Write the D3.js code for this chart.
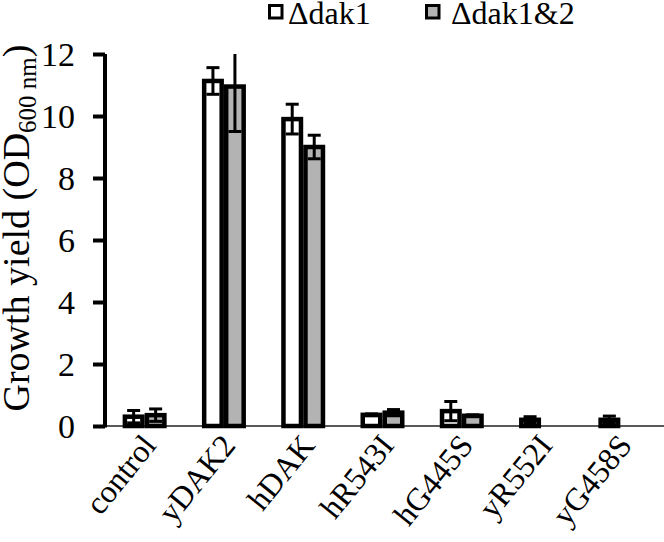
<!DOCTYPE html>
<html><head><meta charset="utf-8">
<script src="https://cdn.jsdelivr.net/npm/d3@7"></script>
<style>body{margin:0;background:#fff}svg{display:block}text{font-family:"Liberation Serif","Times New Roman",serif;fill:#000}</style>
</head><body><svg id="c" width="664" height="542"></svg>
<script>
const categories = ["control","yDAK2","hDAK","hR543I","hG445S","yR552I","yG458S"];
const seriesNames = ["\u0394dak1","\u0394dak1&2"];
const dak1Values = [0.3, 11.13, 9.9, 0.36, 0.48, 0.2, 0.2];
const dak1Errors = [0.2, 0.43, 0.48, 0.03, 0.31, 0.1, 0.12];
const dak12Values = [0.35, 10.95, 9.0, 0.43, 0.33, null, null];
const dak12Errors = [0.2, 1.45, 0.38, 0.1, 0.03, null, null];
const yTicks = [0,2,4,6,8,10,12];

const svg = d3.select("#c");
const yMax = 12;
const y = d3.scaleLinear().domain([0, yMax]).range([426, 54]);
const x0 = d3.scaleBand().domain(categories).range([105, 660]).padding(0);
const x1 = d3.scaleBand().domain([0,1]).range([-22, 22]);
const fills = ["#ffffff", "#b3b3b3"];
const vals = [dak1Values, dak12Values];
const errs = [dak1Errors, dak12Errors];
const sw = 4.5;

// x axis line
svg.append("line").attr("x1",105).attr("x2",664).attr("y1",y(0)).attr("y2",y(0))
  .attr("stroke","#222").attr("stroke-width",1.5);

// bars
const data = [];
categories.forEach((c,i)=>{ [0,1].forEach(k=>{ if(vals[k][i]!=null) data.push({c,k,v:vals[k][i],e:errs[k][i]}); }); });
const cx = d => x0(d.c) + x0.bandwidth()/2 + x1(d.k);
svg.append("g").selectAll("rect").data(data).join("rect")
  .attr("x", d => cx(d) + sw/2)
  .attr("width", x1.bandwidth() - sw)
  .attr("y", d => y(d.v))
  .attr("height", d => y(0) - y(d.v))
  .attr("fill", d => fills[d.k]).attr("stroke","#000").attr("stroke-width",sw);

// error bars
const eg = svg.append("g").attr("stroke","#000").attr("stroke-width",3);
data.forEach(d=>{
  const mx = cx(d) + x1.bandwidth()/2;
  const hi = Math.min(d.v + d.e, yMax), lo = Math.max(d.v - d.e, 0);
  eg.append("line").attr("x1",mx).attr("x2",mx).attr("y1",y(hi)).attr("y2",y(lo));
  if (d.v + d.e <= yMax) eg.append("line").attr("x1",mx-6.5).attr("x2",mx+6.5).attr("y1",y(hi)).attr("y2",y(hi));
  eg.append("line").attr("x1",mx-6.5).attr("x2",mx+6.5).attr("y1",y(lo)).attr("y2",y(lo));
});

// y axis
const ya = svg.append("g").attr("transform","translate(105,0)")
  .call(d3.axisLeft(y).tickValues(yTicks).tickSize(12).tickPadding(18).tickFormat(d3.format("d")));
ya.select(".domain").attr("stroke","#000").attr("stroke-width",4).attr("d","M0,"+y(yMax)+"V"+(y(0)+1.5));
ya.selectAll(".tick line").attr("stroke","#000").attr("stroke-width",4);
ya.selectAll(".tick text").attr("font-size",34).attr("font-family","Liberation Serif").attr("dy","0.34em");

// x labels
svg.append("g").selectAll("text").data(categories).join("text")
  .attr("transform", d => `translate(${x0(d)+x0.bandwidth()/2+13},446) rotate(-51)`)
  .attr("text-anchor","end").attr("font-size",32).text(d=>d);

// y title
const t = svg.append("text").attr("transform","translate(29,228) rotate(-90)")
  .attr("text-anchor","middle").attr("font-size",38);
t.append("tspan").text("Growth yield (OD");
t.append("tspan").attr("font-size",25).attr("dy",7).text("600 nm");
t.append("tspan").attr("dy",-7).text(")");

// legend
const lg = svg.append("g");
const lx = [268, 425];
const tx = [288, 451];
seriesNames.forEach((n,k)=>{
  lg.append("rect").attr("x",lx[k]+1.5).attr("y",5.5).attr("width",12.5).attr("height",12.5)
    .attr("fill",fills[k]).attr("stroke","#000").attr("stroke-width",3);
  lg.append("text").attr("x",tx[k]).attr("y",24).attr("font-size",32).text(n);
});
</script></body></html>
